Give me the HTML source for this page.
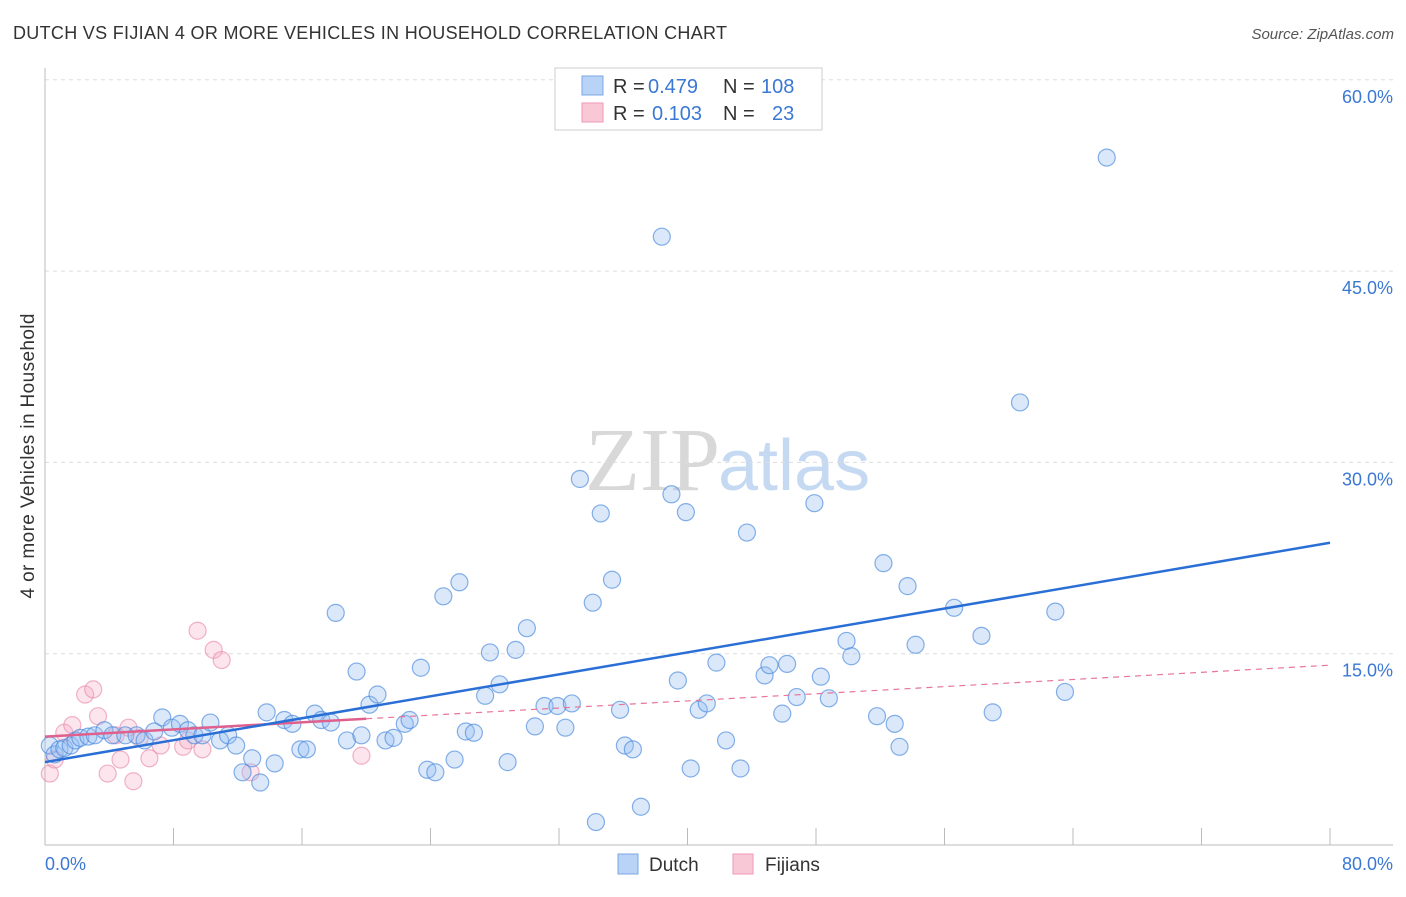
<!DOCTYPE html>
<html><head><meta charset="utf-8"><style>
body{margin:0;background:#fff;font-family:"Liberation Sans",sans-serif;}
</style></head><body>
<svg width="1406" height="892" xmlns="http://www.w3.org/2000/svg">
<text x="13" y="39" font-size="18" fill="#333" textLength="714">DUTCH VS FIJIAN 4 OR MORE VEHICLES IN HOUSEHOLD CORRELATION CHART</text>
<text x="1394" y="39" font-size="15" fill="#555" font-style="italic" text-anchor="end">Source: ZipAtlas.com</text>
<text x="720" y="490" font-size="90" fill="#d8d8d8" font-family="Liberation Serif,serif" text-anchor="end">ZIP</text>
<text x="718" y="490" font-size="72" fill="#c5daf2">atlas</text>
<g id="grid"></g>
<g id="axes"></g>
<g id="marks"></g>
<text transform="translate(34,456) rotate(-90)" font-size="19" fill="#333" text-anchor="middle" textLength="285">4 or more Vehicles in Household</text>
<text x="45" y="870" font-size="18" fill="#3a78d4">0.0%</text>
<text x="1393" y="870" font-size="18" fill="#3a78d4" text-anchor="end">80.0%</text>
<g font-size="20">
<rect x="555" y="68" width="267" height="62" fill="#fff" stroke="#ccc"/>
<rect x="582" y="76" width="21" height="19" fill="#b8d3f5" stroke="#7aa7e6"/>
<rect x="582" y="103" width="21" height="19" fill="#f9c8d7" stroke="#ee9ab5"/>
<text x="613" y="93" fill="#333">R =</text>
<text x="648" y="93" fill="#3a78d4">0.479</text>
<text x="723" y="93" fill="#333">N =</text>
<text x="761" y="93" fill="#3a78d4">108</text>
<text x="613" y="120" fill="#333">R =</text>
<text x="652" y="120" fill="#3a78d4">0.103</text>
<text x="723" y="120" fill="#333">N =</text>
<text x="772" y="120" fill="#3a78d4">23</text>
</g>
<g>
<rect x="618" y="854" width="20" height="20" fill="#b8d3f5" stroke="#7aa7e6"/>
<text x="649" y="871" font-size="19" fill="#333">Dutch</text>
<rect x="733" y="854" width="20" height="20" fill="#f9c8d7" stroke="#ee9ab5"/>
<text x="765" y="871" font-size="19" fill="#333">Fijians</text>
</g>
</svg>
<script>
const yTicks=[15,30,45,60];
const yTickLabels=["15.0%","30.0%","45.0%","60.0%"];
const xTicks=[0,8,16,24,32,40,48,56,64,72,80];
const dutchX=[0.3,0.6,0.9,1.2,1.6,1.9,2.2,2.7,3.1,3.7,4.2,5.0,5.7,6.2,6.8,7.3,7.9,8.4,8.9,9.3,9.8,10.3,10.9,11.4,11.9,12.3,12.9,13.4,13.8,14.3,14.9,15.4,15.9,16.3,16.8,17.2,17.8,18.1,18.8,19.4,19.7,20.2,20.7,21.2,21.7,22.4,22.7,23.4,23.8,24.3,24.8,25.5,25.8,26.2,26.7,27.4,27.7,28.3,28.8,29.3,30.0,30.5,31.1,31.9,32.4,32.8,33.3,34.1,34.3,34.6,35.3,35.8,36.1,36.6,37.1,38.4,39.0,39.4,39.9,40.2,40.7,41.2,41.8,42.4,43.3,43.7,44.8,45.1,45.9,46.2,46.8,47.9,48.3,48.8,49.9,50.2,51.8,52.2,52.9,53.2,53.7,54.2,56.6,58.3,59.0,60.7,62.9,63.5,66.1];
const dutchY=[7.8,7.1,7.5,7.6,7.8,8.2,8.4,8.5,8.6,9.0,8.6,8.6,8.6,8.2,8.9,10.0,9.2,9.5,9.0,8.6,8.6,9.6,8.2,8.6,7.8,5.7,6.8,4.9,10.4,6.4,9.8,9.5,7.5,7.5,10.3,9.8,9.6,18.2,8.2,13.6,8.6,11.0,11.8,8.2,8.4,9.5,9.8,13.9,5.9,5.7,19.5,6.7,20.6,8.9,8.8,11.7,15.1,12.6,6.5,15.3,17.0,9.3,10.9,10.9,9.2,11.1,28.7,19.0,1.8,26.0,20.8,10.6,7.8,7.5,3.0,47.7,27.5,12.9,26.1,6.0,10.6,11.1,14.3,8.2,6.0,24.5,13.3,14.1,10.3,14.2,11.6,26.8,13.2,11.5,16.0,14.8,10.1,22.1,9.5,7.7,20.3,15.7,18.6,16.4,10.4,34.7,18.3,12.0,53.9];
const fijiX=[0.3,0.6,1.2,1.7,2.5,3.0,3.3,3.9,4.7,5.2,5.5,5.9,6.5,7.2,8.6,8.9,9.5,9.8,10.5,11.0,12.8,19.7,4.4];
const fijiY=[5.6,6.7,8.8,9.4,11.8,12.2,10.1,5.6,6.7,9.2,5.0,8.4,6.8,7.8,7.7,8.2,16.8,7.5,15.3,14.5,5.7,7.0,8.6];
const dutchTrend=[6.5,23.7];
const fijiTrend=[8.5,14.1];
const fijiSolidEnd=20;
const NS="http://www.w3.org/2000/svg";
const X=v=>45+v*(1285/80);
const Y=v=>845-v*(191.3/15);
function mk(tag,attrs,parent){const e=document.createElementNS(NS,tag);for(const k in attrs)e.setAttribute(k,attrs[k]);parent.appendChild(e);return e;}
const grid=document.getElementById('grid'),axes=document.getElementById('axes'),marks=document.getElementById('marks');
yTicks.forEach((t,i)=>{
 const l=mk('line',{x1:45,x2:1393,y1:Y(t),y2:Y(t),stroke:'#ddd','stroke-dasharray':'4,4'},grid);
 
 
 const tx=mk('text',{x:1393,y:Y(t)+23,'font-size':18,fill:'#3a78d4','text-anchor':'end'},grid);
 tx.textContent=yTickLabels[i];
 
 
});
const ya=mk('line',{x1:45,x2:45,y1:68,y2:845,stroke:'#bbb'},axes);


const xa=mk('line',{x1:45,x2:1393,y1:845,y2:845,stroke:'#bbb'},axes);


xTicks.forEach(t=>{
 const l=mk('line',{x1:X(t),x2:X(t),y1:828,y2:845,stroke:'#bbb'},axes);
 
 
});
fijiX.forEach((x,i)=>{
 const c=mk('circle',{cx:X(x),cy:Y(fijiY[i]),r:8.5,fill:'rgba(245,170,195,0.3)',stroke:'rgba(232,130,165,0.6)','stroke-width':1.2},marks);
 
 
});
dutchX.forEach((x,i)=>{
 const c=mk('circle',{cx:X(x),cy:Y(dutchY[i]),r:8.5,fill:'rgba(150,190,240,0.35)',stroke:'rgba(70,135,220,0.65)','stroke-width':1.2},marks);
 
 
});
const fs=fijiTrend[0]+(fijiTrend[1]-fijiTrend[0])*fijiSolidEnd/80;
const fd=mk('line',{x1:X(fijiSolidEnd),y1:Y(fs),x2:X(80),y2:Y(fijiTrend[1]),stroke:'#e8759b','stroke-width':1.2,'stroke-dasharray':'6,5'},marks);


const fl=mk('line',{x1:X(0),y1:Y(fijiTrend[0]),x2:X(fijiSolidEnd),y2:Y(fs),stroke:'#e0608d','stroke-width':2.5},marks);


const dl=mk('line',{x1:X(0),y1:Y(dutchTrend[0]),x2:X(80),y2:Y(dutchTrend[1]),stroke:'#2a6fd6','stroke-width':2.5},marks);


</script>
</body></html>
